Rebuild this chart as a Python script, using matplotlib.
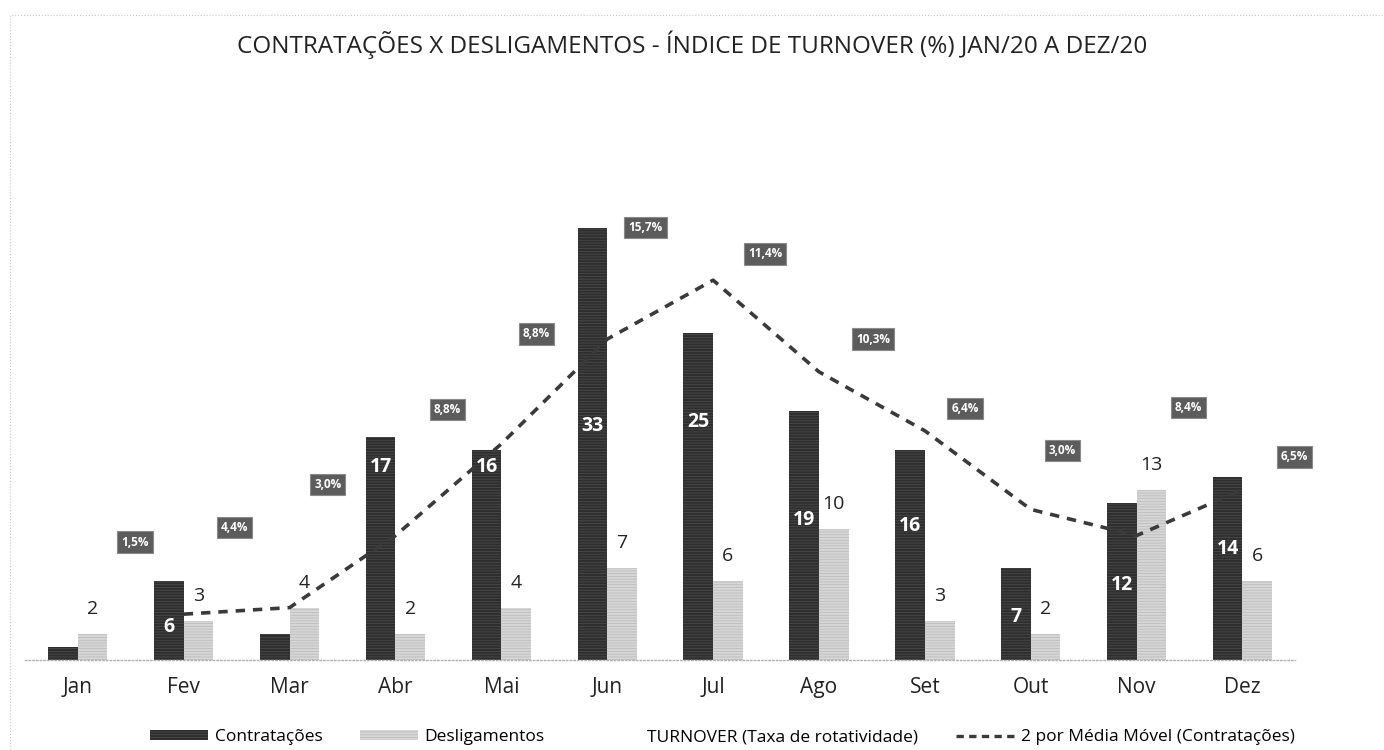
import numpy as np
import matplotlib.pyplot as plt
from matplotlib.patches import Patch, Rectangle
from matplotlib.lines import Line2D

plt.rcParams["font.family"] = ["Open Sans", "DejaVu Sans"]
plt.rcParams["hatch.linewidth"] = 0.6

# ---------------- data ----------------
meses = ["Jan", "Fev", "Mar", "Abr", "Mai", "Jun", "Jul", "Ago", "Set", "Out", "Nov", "Dez"]
contratacoes = [1, 6, 2, 17, 16, 33, 25, 19, 16, 7, 12, 14]
desligamentos = [2, 3, 4, 2, 4, 7, 6, 10, 3, 2, 13, 6]
turnover = ["1,5%", "4,4%", "3,0%", "8,8%", "8,8%", "15,7%", "11,4%", "10,3%", "6,4%", "3,0%", "8,4%", "6,5%"]
mostrar_rotulo_contr = [False, True, False, True, True, True, True, True, True, True, True, True]

# ---------------- layout (label placement, data units) ----------------
y_rot_contr = [0, 2.5, 0, 14.7, 14.7, 17.9, 18.2, 10.7, 10.2, 3.3, 5.7, 8.5]
y_rot_turn = [9.0, 10.1, 13.4, 19.1, 24.9, 33.0, 31.0, 24.5, 19.2, 16.0, 19.3, 15.5]
dx_rot_turn = [0.54, 0.48, 0.36, 0.49, 0.33, 0.36, 0.49, 0.51, 0.38, 0.30, 0.49, 0.49]

escuro = "#2e2e2e"
claro = "#d6d6d6"

fig = plt.figure(figsize=(13.84, 7.5), dpi=100)
ax = fig.add_axes([0.018, 0.12, 0.918, 0.716])

x = np.arange(len(meses))
w = 0.28

b1 = ax.bar(x - w / 2, contratacoes, w, color=escuro, edgecolor="#4a4a4a",
            hatch="------", linewidth=0)
b2 = ax.bar(x + w / 2, desligamentos, w, color=claro, edgecolor="#bdbdbd",
            hatch="------", linewidth=0)

# media movel de 2 periodos
mm = [(contratacoes[i - 1] + contratacoes[i]) / 2 for i in range(1, len(contratacoes))]
ax.plot(x[1:], mm, color="#3a3a3a", lw=2.6, ls=(0, (2.6, 2.2)), zorder=3)

# rotulos
for i in range(len(meses)):
    if mostrar_rotulo_contr[i]:
        ax.text(x[i] - w / 2, y_rot_contr[i], str(contratacoes[i]), color="white",
                fontsize=14, fontweight="bold", ha="center", va="center", zorder=4)
    ax.annotate(str(desligamentos[i]), (x[i] + w / 2, desligamentos[i]),
                xytext=(0, 18), textcoords="offset points", ha="center", va="center",
                fontsize=14, color="#222222")
    ax.text(x[i] + dx_rot_turn[i], y_rot_turn[i], turnover[i], color="white",
            fontsize=8.5, fontweight="bold", ha="center", va="center", zorder=5,
            bbox=dict(boxstyle="square,pad=0.35", fc="#5c5c5c", ec="#8a8a8a", lw=0.8))

ax.set_xlim(-0.5, len(meses) - 0.5)
ax.set_ylim(0, 41)
ax.set_xticks(x)
ax.set_xticklabels(meses, fontsize=15, color="#222222")
ax.tick_params(axis="x", length=0, pad=12)
ax.set_yticks([])
for s in ["top", "right", "left"]:
    ax.spines[s].set_visible(False)
ax.spines["bottom"].set_color("#b0b0b0")
ax.spines["bottom"].set_linestyle(":")
ax.spines["bottom"].set_linewidth(1.0)

fig.text(0.5, 0.94, "CONTRATAÇÕES X DESLIGAMENTOS - ÍNDICE DE TURNOVER (%) JAN/20 A DEZ/20",
         ha="center", va="center", fontsize=17.5, color="#222222")

handles = [
    Patch(facecolor=escuro, edgecolor="#4a4a4a", hatch="------", linewidth=0),
    Patch(facecolor=claro, edgecolor="#bdbdbd", hatch="------", linewidth=0),
    Line2D([], [], color="none"),
    Line2D([], [], color="#3a3a3a", lw=2.4, ls=(0, (2.2, 1.6))),
]
labels = ["Contratações", "Desligamentos", "TURNOVER (Taxa de rotatividade)",
          "2 por Média Móvel (Contratações)"]
fig.legend(handles, labels, loc="center", bbox_to_anchor=(0.522, 0.017), ncol=4,
           frameon=False, fontsize=12.5, handlelength=3.3, handleheight=0.5,
           columnspacing=2.2, handletextpad=0.4)

# moldura clara do grafico
fig.patches.append(Rectangle((0.007, -0.01), 1.1, 0.99, transform=fig.transFigure,
                             fill=False, ec="#c8c8c8", lw=0.8, ls=":"))

fig.savefig("out.png", dpi=100)
